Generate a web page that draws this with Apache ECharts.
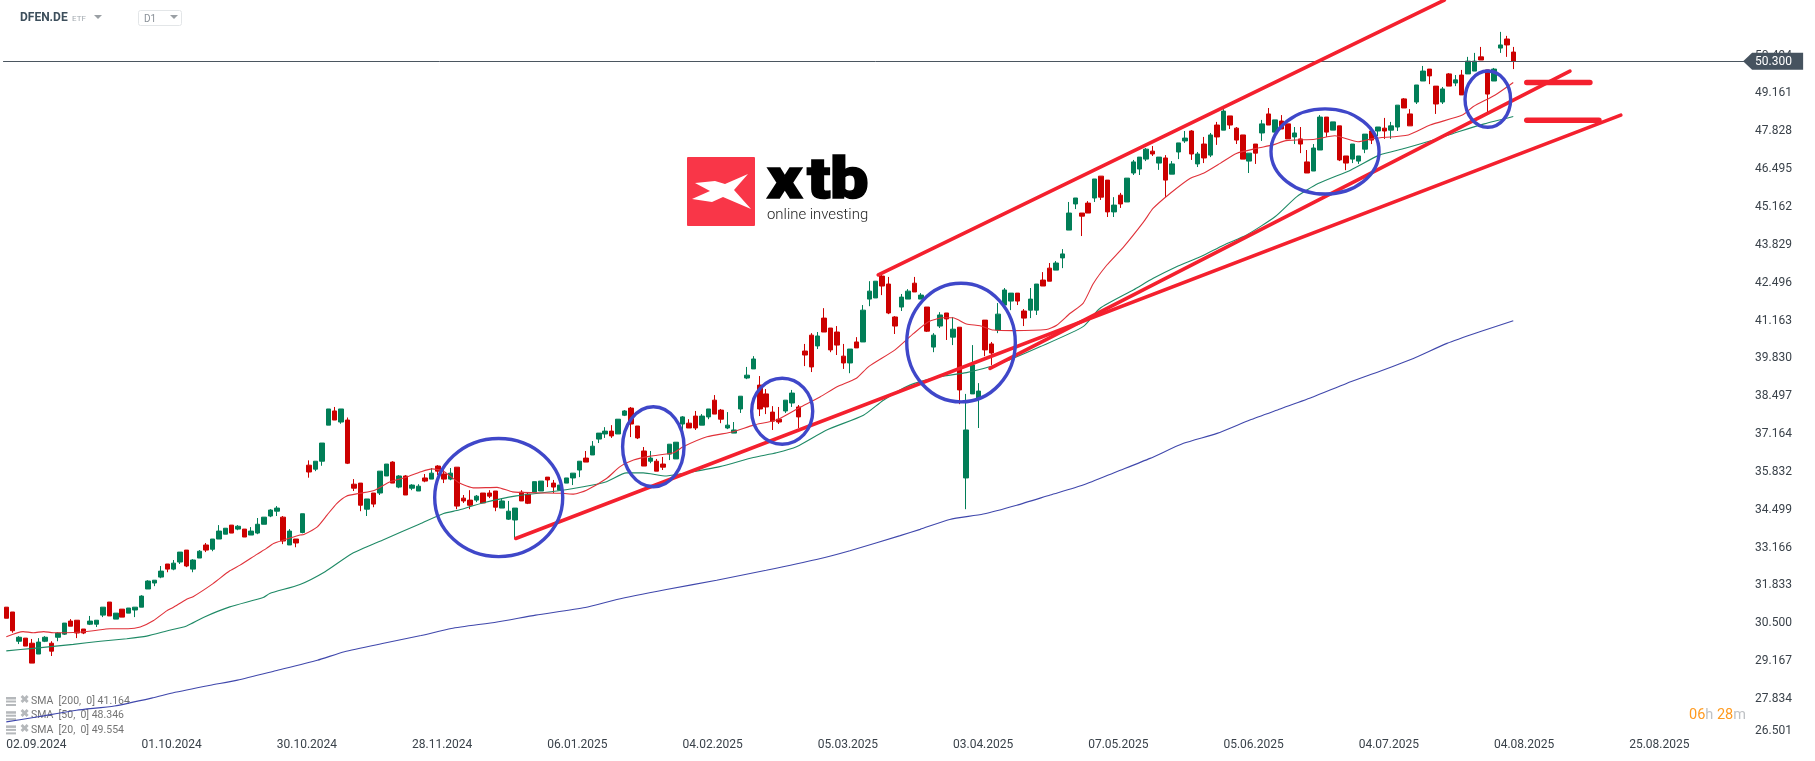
<!DOCTYPE html>
<html>
<head>
<meta charset="utf-8">
<style>
    html, body { margin: 0; padding: 0; background: #fff; }
    #chart { width: 1815px; height: 761px; }
</style>
<script src="https://cdn.jsdelivr.net/npm/echarts@6/dist/echarts.min.js"></script>
</head>
<body>
<div id="chart"></div>
<script>
const dateLabels = ['02.09.2024', '01.10.2024', '30.10.2024', '28.11.2024', '06.01.2025', '04.02.2025', '05.03.2025',
    '03.04.2025', '07.05.2025', '05.06.2025', '04.07.2025', '04.08.2025', '25.08.2025'];

const priceTicks = [26.501, 27.834, 29.167, 30.5, 31.833, 33.166, 34.499, 35.832, 37.164, 38.497, 39.83, 41.163,
    42.496, 43.829, 45.162, 46.495, 47.828, 49.161, 50.494];

const lastPrice = 50.3;

// open, close, low, high
const candles = [
    [31.07,30.68,30.68,31.07],[30.90,30.24,30.17,30.90],[29.87,30.01,29.77,30.05],[29.98,29.70,29.70,29.98],[29.80,29.10,29.10,29.95],
    [29.42,29.84,29.42,29.98],[29.87,30.01,29.84,30.05],[29.80,29.52,29.35,29.87],[30.01,30.16,29.87,30.19],[30.12,30.51,30.09,30.51],
    [30.58,30.40,30.40,30.65],[30.61,30.16,29.98,30.61],[30.30,30.16,30.12,30.30],[30.47,30.58,30.44,30.76],[30.47,30.61,30.37,30.61],
    [30.79,31.07,30.72,31.07],[31.25,30.76,30.76,31.25],[30.65,30.86,30.65,30.86],[31.00,30.72,30.72,31.00],[30.86,31.04,30.86,31.04],
    [30.97,31.07,30.72,31.07],[31.07,31.46,31.07,31.49],[31.71,31.99,31.71,32.02],[31.92,32.02,31.81,32.02],[32.13,32.34,32.09,32.52],
    [32.59,32.41,32.30,32.59],[32.41,32.62,32.37,32.73],[32.66,33.01,32.59,33.01],[33.08,32.52,32.48,33.08],[32.41,32.73,32.30,32.76],
    [32.80,33.04,32.80,33.08],[33.26,33.08,33.01,33.33],[33.11,33.47,33.04,33.47],[33.47,33.75,33.47,33.96],[33.64,33.85,33.64,33.85],
    [33.96,33.68,33.68,33.96],[33.82,33.92,33.78,33.96],[33.82,33.54,33.54,33.82],[33.61,33.75,33.61,33.89],[33.68,33.99,33.64,34.21],
    [33.99,34.24,33.99,34.24],[34.28,34.49,34.24,34.52],[34.45,34.56,34.28,34.63],[34.24,33.40,33.29,34.28],[33.26,33.75,33.26,33.82],
    [33.47,33.33,33.18,33.47],[33.70,34.36,33.67,34.36],[36.07,35.83,35.63,36.24],[35.93,36.21,35.86,36.21],[36.21,36.85,36.05,36.85],
    [37.48,38.05,37.48,38.05],[37.98,37.66,37.66,38.12],[37.59,38.05,37.53,38.05],[37.66,36.14,36.11,37.75],[35.40,35.26,35.16,35.58],
    [35.44,34.66,34.45,35.44],[34.52,34.88,34.28,34.88],[35.09,34.70,34.59,35.09],[35.09,35.86,35.02,35.86],[35.69,36.11,35.69,36.11],
    [36.18,35.44,35.44,36.21],[35.30,35.69,35.26,35.72],[35.69,35.02,35.02,35.72],[35.26,35.37,35.19,35.40],[35.16,35.33,35.16,35.40],
    [35.62,35.51,35.47,35.76],[35.58,35.79,35.58,35.97],[36.04,35.86,35.72,36.07],[35.76,35.58,35.44,35.97],[35.58,35.79,35.54,35.97],
    [36.00,34.63,34.52,36.00],[34.91,34.81,34.74,35.02],[34.84,34.66,34.52,35.19],[34.84,34.98,34.77,35.02],[35.09,34.74,34.74,35.09],
    [35.09,34.98,34.91,35.19],[35.16,34.59,34.45,35.16],[34.56,34.81,34.56,34.91],[34.17,34.45,34.14,34.81],[34.14,34.56,33.50,34.56],
    [35.12,34.81,34.81,35.19],[35.05,34.73,34.70,35.12],[35.12,35.49,35.12,35.49],[35.16,35.51,35.16,35.51],[35.65,35.55,35.30,35.65],
    [35.44,35.30,35.09,35.55],[35.19,35.37,35.19,35.37],[35.44,35.62,35.44,35.62],[35.62,35.79,35.37,35.79],[35.90,36.21,35.65,36.21],
    [36.32,36.18,36.18,36.57],[36.43,36.74,36.43,36.92],[36.99,37.20,36.85,37.20],[37.17,37.27,37.03,37.41],[37.27,37.10,37.03,37.48],
    [37.17,37.69,37.17,37.69],[37.83,37.98,37.80,38.01],[38.08,37.52,37.06,38.12],[37.45,37.03,36.99,37.45],[36.57,36.04,36.04,36.71],
    [36.21,36.32,36.14,36.57],[36.21,35.86,35.86,36.29],[36.11,36.00,35.90,36.36],[36.46,36.81,36.25,36.81],[36.29,36.88,36.29,36.88],
    [37.52,37.77,37.27,37.80],[37.55,37.38,37.38,37.69],[37.80,37.38,37.31,37.98],[37.48,37.80,37.48,37.87],[37.77,38.05,37.69,38.05],
    [38.36,37.87,37.87,38.54],[38.01,37.69,37.55,38.05],[37.38,37.48,37.34,37.94],[37.20,37.31,37.20,37.59],[38.05,38.50,37.91,38.50],
    [39.14,39.24,39.10,39.53],[39.46,39.81,39.46,39.91],[38.89,38.05,37.80,39.21],[38.58,38.12,37.87,38.75],[37.94,37.62,37.31,38.15],
    [37.69,37.59,37.52,38.12],[37.98,38.36,37.91,38.36],[38.26,38.61,38.12,38.72],[38.12,37.77,37.38,38.19],[40.09,39.95,39.56,40.34],
    [40.65,39.53,39.35,40.72],[40.27,40.62,40.16,40.76],[41.25,40.76,40.76,41.60],[40.90,40.13,40.05,40.90],[40.76,40.30,39.95,40.97],
    [39.91,39.67,39.46,40.34],[39.67,40.16,39.31,40.16],[40.41,40.20,40.20,40.58],[40.41,41.53,40.41,41.71],[41.92,42.20,41.67,42.55],
    [41.96,42.55,41.96,42.55],[42.73,42.38,42.06,42.80],[42.45,41.43,41.39,42.70],[41.29,40.97,40.69,41.32],[41.64,41.99,41.50,42.10],
    [41.92,42.20,41.92,42.27],[42.48,42.17,42.17,42.70],[41.92,42.06,41.92,42.13],[41.64,40.79,40.76,41.64],[40.23,40.65,40.05,40.72],
    [40.97,41.36,40.90,41.46],[41.43,41.22,40.48,41.43],[40.58,40.86,40.30,41.29],[40.93,38.72,38.22,40.93],[35.62,37.31,34.52,38.58],
    [38.58,39.60,38.58,40.30],[38.40,38.68,37.38,38.96],[41.18,40.13,39.91,41.18],[40.34,40.02,39.60,40.41],[40.83,41.39,40.72,41.78],
    [41.71,42.24,41.71,42.31],[41.85,42.13,41.53,42.13],[42.13,41.85,41.71,42.13],[41.50,41.25,40.97,41.57],[41.53,41.92,41.25,42.31],
    [41.53,42.45,41.36,42.45],[42.59,42.38,42.38,42.87],[43.01,42.55,42.55,43.19],[42.94,43.19,42.94,43.26],[43.37,43.51,43.01,43.68],
    [44.35,44.95,44.35,45.34],[45.27,45.48,45.09,45.48],[44.95,44.84,44.14,44.95],[45.30,44.95,44.95,45.37],[45.48,46.15,45.34,46.15],
    [46.25,45.51,45.41,46.25],[46.11,44.99,44.81,46.11],[44.99,45.23,44.81,45.51],[45.58,45.27,45.13,45.66],[45.34,46.18,45.34,46.18],
    [46.36,46.75,46.29,46.82],[46.50,46.92,46.29,46.92],[46.85,47.20,46.78,47.24],[47.13,47.03,46.96,47.31],[46.71,46.92,46.47,46.92],
    [46.89,46.11,45.51,46.99],[46.32,46.68,46.32,46.78],[47.10,47.42,46.85,47.42],[47.49,47.59,47.42,47.84],[47.84,47.03,46.82,47.87],
    [46.68,47.03,46.57,47.10],[47.38,46.89,46.71,47.63],[46.99,47.70,46.92,47.77],[48.05,47.63,47.35,48.16],[47.87,48.54,47.87,48.61],
    [48.37,48.05,47.91,48.37],[47.94,47.52,47.38,47.98],[47.70,46.85,46.85,47.70],[46.78,47.06,46.36,47.06],[47.38,47.06,46.68,47.38],
    [47.77,48.09,47.49,48.23],[48.44,48.05,48.05,48.65],[47.80,48.23,47.80,48.23],[48.19,47.91,47.91,48.40],[48.09,47.56,47.56,48.09],
    [47.63,47.77,47.38,47.98],[47.56,47.38,47.06,47.98],[46.75,46.36,46.36,47.17],[46.43,47.24,46.43,47.38],[47.17,48.33,47.17,48.40],
    [48.33,47.80,47.63,48.33],[47.87,48.16,47.87,48.16],[48.02,46.82,46.78,48.02],[46.96,46.71,46.46,46.96],[46.85,47.38,46.71,47.38],
    [46.78,46.96,46.68,46.96],[47.20,47.73,47.06,47.73],[47.84,47.52,47.38,47.98],[47.84,47.98,47.66,47.98],[47.94,47.84,47.56,48.30],
    [47.87,48.02,47.56,48.16],[47.98,48.75,47.84,48.75],[48.97,48.65,48.65,49.00],[48.44,48.02,48.02,48.61],[48.86,49.46,48.79,49.46],
    [49.60,49.95,49.60,50.13],[50.02,49.78,49.49,50.02],[49.42,48.79,48.44,49.42],[48.86,49.32,48.79,49.39],[49.85,49.42,49.42,49.88],
    [49.53,49.64,49.42,49.81],[49.81,49.11,49.11,49.99],[49.85,50.30,49.85,50.45],[49.95,50.30,49.95,50.59],[50.45,50.34,50.34,50.80],
    [49.99,49.14,48.51,49.99],[49.60,50.02,49.60,50.06],[50.76,50.87,50.59,51.33],[51.08,50.87,50.45,51.19],[50.62,50.30,50.02,50.80]
];

// [bar position, value]
const sma20 = [[0,30.03],[2.6,30.21],[4.2,30.17],[5.8,30.21],[7.3,30.17],[10.4,30.18],[13.5,30.24],[16.1,30.31],[18.9,30.31],[20.8,30.37],
    [22.8,30.59],[24.9,30.94],[25.9,31.06],[28,31.35],[29,31.44],[32.1,31.90],[34.7,32.35],[36.3,32.55],[38.9,32.93],[40.4,33.14],
    [41.5,33.31],[43,33.43],[45.6,33.61],[46.2,33.63],[48.3,33.90],[49.8,34.31],[51.3,34.72],[52.8,34.98],[54.9,35.08],[57.2,35.19],
    [59.6,35.49],[62,35.64],[64.4,35.84],[66.1,35.94],[67.9,35.86],[70.3,35.45],[72.7,35.27],[76.2,35.29],[78.6,35.13],[82.2,35.10],
    [86.3,35.08],[88.1,35.05],[90.1,35.19],[93.2,35.60],[95.3,36.02],[97.4,36.25],[100,36.39],[103.6,36.51],[105.1,36.72],[108.8,37.07],
    [112.9,37.25],[116,37.48],[119.6,37.66],[123.2,38.10],[126.4,38.48],[129,38.83],[132,39.13],[133.9,39.54],[138,40.13],[140.9,40.71],
    [143.2,41.12],[145.5,41.26],[147,41.26],[149.1,41.04],[151.2,40.98],[153.3,40.83],[156.4,40.81],[161.5,40.85],[163.1,41.00],[165.2,41.42],
    [167.2,41.77],[168.8,42.47],[170.9,43.12],[173.5,43.76],[176.6,44.64],[178.1,45.12],[180.7,45.64],[183.8,46.17],[185.9,46.35],[188.5,46.70],
    [191,47.05],[194.2,47.23],[196.7,47.35],[198.7,47.50],[203.2,47.55],[206.3,47.67],[209.9,47.46],[212.4,47.58],[217.7,47.70],[221.1,48.05],
    [226.1,48.40],[227.8,48.70],[231.2,49.11],[234,49.55]];

const sma50 = [[0,29.53],[4.2,29.62],[10.4,29.76],[14.6,29.87],[18.7,29.96],[21.8,30.05],[24.9,30.23],[28,30.41],[30.6,30.71],[34.7,31.08],
    [39.9,31.41],[40.9,31.55],[45.6,31.87],[49.5,32.32],[53.7,32.96],[58.4,33.43],[64.2,34.00],[67.9,34.37],[70.3,34.49],[74.1,34.75],
    [79.2,34.99],[85.5,35.16],[89.6,35.31],[93.2,35.49],[96.3,35.80],[98.9,35.80],[102.5,35.69],[105.1,35.78],[110.8,36.02],[116,36.34],
    [119.6,36.51],[122.7,36.72],[127.4,37.31],[133.1,37.83],[136.2,38.36],[140.3,38.89],[145,39.19],[149.1,39.33],[154.3,39.65],[160.5,40.24],
    [167.2,40.95],[169.8,41.59],[175,42.24],[178.1,42.65],[181.7,43.06],[185.4,43.41],[189,43.82],[192.6,44.18],[197,44.82],[200.4,45.53],
    [203.7,45.99],[208.8,46.47],[213.2,46.99],[217.2,47.23],[221.6,47.52],[225.6,47.82],[229.5,48.09],[234,48.35]];

const sma200 = [[0,27.03],[4.96,27.21],[10.9,27.44],[16.8,27.59],[22.8,27.88],[25.8,28.05],[31.7,28.32],[35.9,28.50],[41.8,28.83],[48.3,29.20],
    [52.5,29.50],[58.4,29.79],[64.4,30.07],[69.1,30.32],[76.2,30.55],[82.2,30.79],[89.9,31.06],[94.8,31.34],[102.5,31.69],[110.3,32.02],
    [118,32.37],[125.8,32.75],[131,33.06],[138.8,33.59],[141.9,33.81],[146.5,34.16],[151.7,34.35],[156.9,34.66],[162.1,35.02],[167.2,35.37],
    [172.4,35.84],[177.6,36.31],[182.8,36.84],[188,37.19],[193.1,37.66],[197.8,38.05],[203,38.48],[208.1,38.95],[213.3,39.38],[218.5,39.83],
    [223.7,40.36],[228.8,40.77],[234,41.16]];

// hand drawn lines on the chart: start bar, start price, end bar, end price
const trendLines = [[79.1,33.49,250.7,48.40],[152.75,39.48,242.8,49.95],[135.4,42.77,223.3,52.45]];
const levelLines = [[236.1,49.55,245.9,49.55],[236.1,48.22,247.3,48.22]];

// hand drawn ellipses: centre bar, centre price, bar radius, price radius
const ellipses = [[76.46,34.93,9.94,2.08],[100.47,36.72,4.77,1.41],[120.48,37.97,4.74,1.16],
    [148.25,40.39,8.43,2.09],[204.77,47.12,8.39,1.50],[230.05,48.96,3.54,0.99]];

const legendRows = ['SMA  [200,  0] 41.164', 'SMA  [50,  0] 48.346', 'SMA  [20,  0] 49.554'];

const barCount = 271;
const barsPerLabel = 21;
const categories = [];
for (let i = 0; i < barCount; i++) {
    categories.push(i % barsPerLabel === 0 ? dateLabels[i / barsPerLabel] : '');
}

const chart = echarts.init(document.getElementById('chart'), null, { renderer: 'canvas' });

const font = 'Roboto, sans-serif';
const red = '#f4202e';
const blue = '#3f47c9';

const drawnLine = (points, width) => ({
    type: 'line',
    xAxisIndex: 1,
    data: points,
    symbol: 'none',
    silent: true,
    z: 6,
    lineStyle: { color: red, width: width, cap: 'round' }
});

const smaLine = (points, color) => ({
    type: 'line',
    xAxisIndex: 1,
    data: points,
    symbol: 'none',
    smooth: 0.2,
    silent: true,
    z: 4,
    lineStyle: { color: color, width: 1.1 }
});

const logoLetter = (letter, x) => ({
    type: 'text',
    z: 2,
    x: x,
    y: 154,
    scaleX: 1.18,
    style: { text: letter, fill: '#000', stroke: '#000', lineWidth: 1.5, font: '900 58px ' + font }
});

const option = {
    animation: false,
    backgroundColor: '#fff',
    textStyle: { fontFamily: font },
    grid: { left: 3.08, top: 0, width: barCount * 6.44, height: 736.9 },
    xAxis: [
        {
            type: 'category',
            data: categories,
            axisLine: { show: false },
            axisTick: { show: false },
            splitLine: { show: false },
            axisLabel: {
                interval: barsPerLabel - 1,
                align: 'left',
                margin: 2,
                fontSize: 12,
                color: '#3a424a',
                fontFamily: font
            }
        },
        { type: 'value', min: -0.5, max: barCount - 0.5, show: false }
    ],
    yAxis: {
        type: 'value',
        position: 'right',
        min: 26.501,
        max: 52.453,
        axisLine: { show: false },
        axisTick: { show: false },
        splitLine: { show: false },
        axisLabel: {
            customValues: priceTicks,
            formatter: value => value.toFixed(3),
            margin: 6.7,
            padding: [4, 0, 0, 0],
            fontSize: 12,
            color: '#3a424a',
            fontFamily: font,
            verticalAlignMinLabel: 'bottom'
        }
    },
    series: [
        {
            type: 'candlestick',
            data: candles,
            barWidth: 5,
            silent: true,
            z: 3,
            itemStyle: {
                color: '#017e57',
                color0: '#cc0000',
                borderColor: '#017e57',
                borderColor0: '#cc0000',
                borderWidth: 1
            },
            markLine: {
                silent: true,
                symbol: 'none',
                label: { show: false },
                lineStyle: { color: '#4b5660', width: 1, type: 'solid' },
                data: [{ yAxis: lastPrice }]
            }
        },
        smaLine(sma200, '#4048ac'),
        smaLine(sma50, '#1f8a66'),
        smaLine(sma20, '#e0323a'),
        ...trendLines.map(l => drawnLine([[l[0], l[1]], [l[2], l[3]]], 3.6)),
        ...levelLines.map(l => drawnLine([[l[0], l[1]], [l[2], l[3]]], 5.5)),
        {
            type: 'custom',
            xAxisIndex: 1,
            data: ellipses,
            silent: true,
            z: 7,
            renderItem: (params, api) => {
                const c = api.coord([api.value(0), api.value(1)]);
                const size = api.size([api.value(2), api.value(3)]);
                return {
                    type: 'ellipse',
                    shape: { cx: c[0], cy: c[1], rx: size[0], ry: size[1] },
                    style: { fill: 'none', stroke: blue, lineWidth: 3.4 }
                };
            }
        },
        {
            // price tag next to the axis
            type: 'custom',
            xAxisIndex: 1,
            data: [[barCount - 1, lastPrice]],
            silent: true,
            clip: false,
            z: 8,
            renderItem: (params, api) => {
                const c = api.coord([api.value(0), api.value(1)]);
                const x = c[0] - 2;
                return {
                    type: 'group',
                    children: [
                        {
                            type: 'polygon',
                            shape: { points: [[x, c[1]], [x + 9, c[1] - 8.5], [x + 60, c[1] - 8.5], [x + 60, c[1] + 8.5], [x + 9, c[1] + 8.5]] },
                            style: { fill: '#46535f' }
                        },
                        {
                            type: 'text',
                            x: x + 12,
                            y: c[1] + 1,
                            style: { text: lastPrice.toFixed(3), fill: '#fff', font: '12px ' + font, textVerticalAlign: 'middle' }
                        }
                    ]
                };
            }
        }
    ],
    graphic: [
        { type: 'text', x: 20, y: 12, style: { text: 'DFEN.DE', fill: '#3d4f5c', font: 'bold 12px ' + font } },
        { type: 'text', x: 72, y: 15, style: { text: 'ETF', fill: '#a4abb1', font: '8px ' + font } },
        { type: 'polygon', shape: { points: [[94, 15], [102, 15], [98, 19]] }, style: { fill: '#9a9fa4' } },
        { type: 'rect', shape: { x: 138.5, y: 10.5, width: 43, height: 15, r: 2 }, style: { fill: '#fff', stroke: '#e3e6e8' } },
        { type: 'text', x: 144, y: 14, style: { text: 'D1', fill: '#8a9198', font: '10px ' + font } },
        { type: 'polygon', shape: { points: [[170, 15], [178, 15], [174, 19]] }, style: { fill: '#9a9fa4' } },

        // logo
        { type: 'rect', z: 1, shape: { x: 687, y: 157, width: 68, height: 69, r: 1 }, style: { fill: '#f93648' } },
        {
            type: 'polygon',
            z: 2,
            shape: { points: [[695, 183], [715, 181], [725, 184], [748, 174], [734, 190], [751, 209], [723, 197], [712, 202], [692, 199], [710, 191]] },
            style: { fill: '#fff' }
        },
        logoLetter('x', 767),
        logoLetter('t', 807),
        logoLetter('b', 830),
        { type: 'text', z: 2, x: 767, y: 207.5, style: { text: 'online investing', fill: '#222', font: '300 14.9px ' + font } },

        // indicator legend
        ...legendRows.map((row, i) => ({
            type: 'group',
            x: 6,
            y: 697 + i * 14.2,
            z: 10,
            children: [
                { type: 'rect', shape: { x: 0, y: 0, width: 10, height: 2.5 }, style: { fill: '#b5b8bb' } },
                { type: 'rect', shape: { x: 0, y: 3.5, width: 10, height: 2 }, style: { fill: '#b5b8bb' } },
                { type: 'rect', shape: { x: 0, y: 7, width: 10, height: 2 }, style: { fill: '#b5b8bb' } },
                { type: 'text', x: 14, y: -2, style: { text: '\u2716', fill: '#b5b8bb', font: 'bold 11px ' + font } },
                { type: 'text', x: 25, y: -1, style: { text: row, fill: 'rgba(90,90,90,0.85)', font: '10.5px ' + font } }
            ]
        })),

        // countdown to the close
        {
            type: 'text',
            x: 1689,
            y: 708,
            style: {
                text: '{o|06}{g|h} {o|28}{g|m}',
                font: '14.5px ' + font,
                rich: {
                    o: { fill: '#ff9a1f', font: '14.5px ' + font },
                    g: { fill: '#bfc2c5', font: '14.5px ' + font }
                }
            }
        }
    ]
};

chart.setOption(option);
</script>
</body>
</html>
